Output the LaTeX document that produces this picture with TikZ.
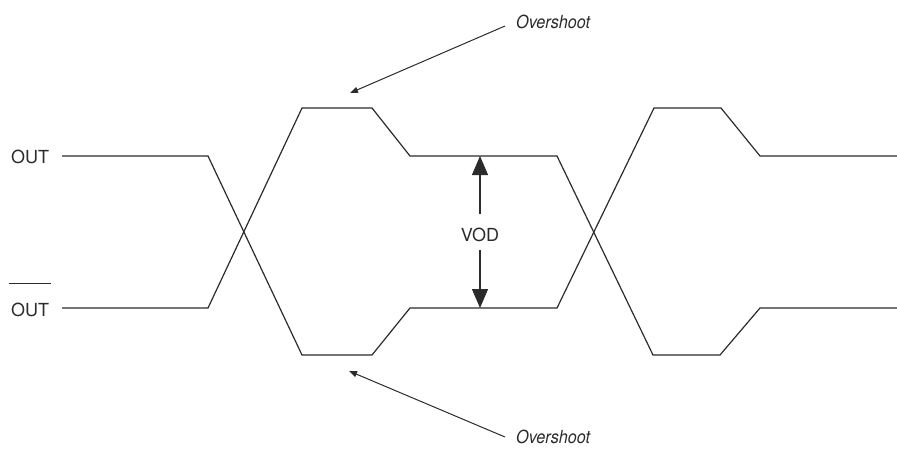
\documentclass[tikz,border=0pt]{standalone}
\usepackage{fontspec}
\setmainfont{TeX Gyre Heros}
\newfontfamily\condit[FakeStretch=0.9]{TeX Gyre Heros}
\usetikzlibrary{arrows.meta}
\definecolor{ink}{HTML}{2b2b2b}
\begin{document}
\begin{tikzpicture}[x=1pt,y=-1pt,
  wave/.style={draw=ink,line width=1.2pt,line join=miter},
  lbl/.style={inner sep=0pt,font=\fontsize{18}{20}\selectfont,text=ink},
  oslbl/.style={inner sep=0pt,font=\condit\itshape\fontsize{18}{20}\selectfont,text=ink},
  osarrow/.style={draw=ink,line width=1pt,-{Triangle[length=8pt,width=6pt]}},
  vodarrow/.style={draw=ink,line width=1.2pt,-{Triangle[length=19pt,width=16pt]}}]
\useasboundingbox (0,0) rectangle (897,448);
% labels
\node[lbl] (out) at (30,156.5) {OUT};
\node[lbl] (outb) at (30,310) {OUT};
\draw[ink,line width=1.2pt] ([yshift=19.5pt,xshift=-1.5pt]outb.north west) -- ++(41.5,0);
% waveforms
\draw[wave] (62,156) -- (208,156) -- (302,355) -- (372,355) -- (410,308) -- (557,308)
  -- (654,108) -- (721,108) -- (760,156) -- (897,156);
\draw[wave] (62,308) -- (208,308) -- (302,108) -- (372,108) -- (410,156) -- (557,156)
  -- (653,355) -- (720,355) -- (760,308) -- (897,308);
% VOD
\node[lbl] (vod) at (480,235) {VOD};
\coordinate (vtop) at (480,156);
\coordinate (vbot) at (480,308);
\draw[vodarrow] (480,214) -- (vtop);
\draw[vodarrow] (480,250) -- (vbot);
% overshoot
\node[oslbl,anchor=west] (ostop) at (516,22) {Overshoot};
\node[oslbl,anchor=west] (osbot) at (516,437) {Overshoot};
\coordinate (pt) at (350,93);
\coordinate (pb) at (349,371);
\draw[osarrow] (505,26) -- (pt);
\draw[osarrow] (505,437) -- (pb);
\end{tikzpicture}
\end{document}
